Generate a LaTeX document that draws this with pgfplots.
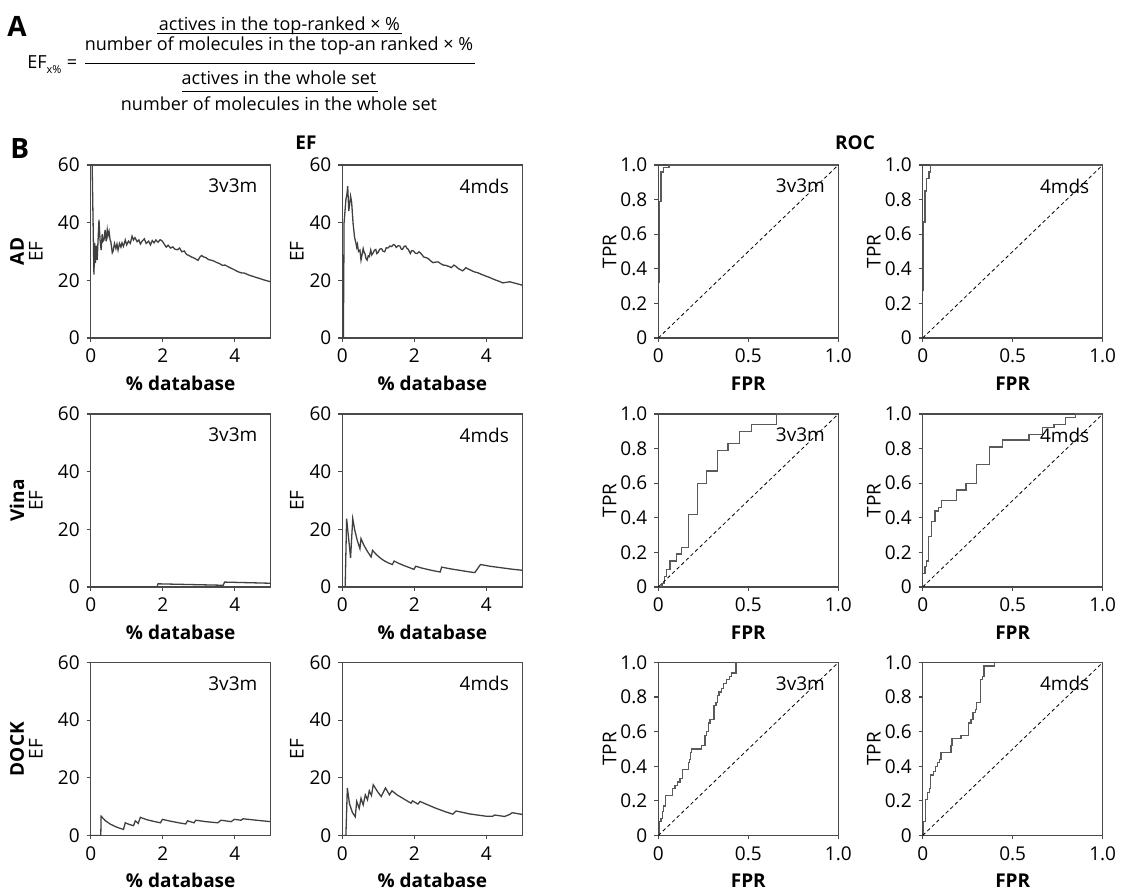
\documentclass[border=0pt]{standalone}
\usepackage{fontspec}
\setmainfont{Open Sans}
\usepackage{pgfplots}
\pgfplotsset{compat=1.18}
\definecolor{linec}{HTML}{404040}
\definecolor{rocc}{HTML}{5A5A5A}
\definecolor{axc}{HTML}{4A4A4A}
\newcommand{\fs}{\fontsize{9.5}{11}\selectfont}
\newcommand{\ffs}{\fontsize{9}{10.5}\selectfont}
\pgfplotsset{
  base/.style={
    scale only axis, width=90pt, height=86.5pt,
    anchor=south west,
    axis line style={axc, line width=0.6pt},
    tick style={axc, line width=0.6pt},
    tick align=outside, major tick length=2pt,
    xtick pos=left, ytick pos=left,
    ticklabel style={font=\fs, text=black},
    /pgf/number format/assume math mode=true,
    xlabel style={at={(axis description cs:0.5,-0.262)}, anchor=center, font=\bfseries\fs},
    every axis plot/.append style={line width=0.65pt, mark=none},
  },
  efax/.style={base, xmin=0, xmax=5, ymin=0, ymax=60,
    xtick={0,2,4}, ytick={0,20,40,60},
    xlabel={\% database}, ylabel={EF},
    ylabel style={at={(axis description cs:#1,0.5)}, anchor=center, font=\fs}},
  rocax/.style={base, xmin=0, xmax=1, ymin=0, ymax=1,
    xtick={0,0.5,1}, xticklabels={0,0.5,1.0},
    ytick={0,0.2,0.4,0.6,0.8,1}, yticklabels={0,0.2,0.4,0.6,0.8,1.0},
    xlabel={FPR}, ylabel={TPR},
    ylabel style={at={(axis description cs:#1,0.5)}, anchor=center, font=\fs}},
}
\newcommand{\tag}[1]{\node[anchor=north east, inner sep=0pt, font=\fs] at (rel axis cs:1,1) [xshift=-6.5pt, yshift=-6.8pt] {#1};}
\newcommand{\diag}{\addplot[black, line width=0.4pt, dash pattern=on 1.8pt off 1.4pt] coordinates {(0,0) (1,1)};}
\begin{document}
\begin{tikzpicture}
\useasboundingbox (0,0) rectangle (560.5pt,445pt);
% ---------- panel A formula ----------
\node[anchor=base west, inner sep=0pt, font=\bfseries\fontsize{14}{16}\selectfont] at (3.5pt,426.5pt) {A};
\node[anchor=base west, inner sep=0pt, font=\ffs] at (13.5pt,410.5pt) {EF\raisebox{-2.5pt}{\fontsize{5.5}{6}\selectfont x\%}};
\node[anchor=base, inner sep=0pt, font=\ffs] at (36pt,410.5pt) {=};
\node[anchor=base, inner sep=0pt, font=\ffs] at (139.75pt,429.5pt) {actives in the top-ranked × \%};
\draw[black, line width=0.5pt] (78.5pt,428pt) -- (201pt,428pt);
\node[anchor=base, inner sep=0pt, font=\ffs] at (139.5pt,419.5pt) {number of molecules in the top-an ranked × \%};
\draw[black, line width=0.5pt] (42.5pt,413pt) -- (237.5pt,413pt);
\node[anchor=base, inner sep=0pt, font=\ffs] at (139.5pt,402.5pt) {actives in the whole set};
\draw[black, line width=0.5pt] (91pt,399pt) -- (189pt,399pt);
\node[anchor=base, inner sep=0pt, font=\ffs] at (139.5pt,389.5pt) {number of molecules in the whole set};
% ---------- panel B headings ----------
\node[anchor=base west, inner sep=0pt, font=\bfseries\fontsize{14}{16}\selectfont] at (5pt,365.5pt) {B};
\node[font=\bfseries\fs, inner sep=0pt] at (153pt,373.5pt) {EF};
\node[font=\bfseries\fs, inner sep=0pt] at (427.5pt,373.5pt) {ROC};
\node[rotate=90, font=\bfseries\fs, inner sep=0pt] at (8.5pt,319.25pt) {AD};
\node[rotate=90, font=\bfseries\fs, inner sep=0pt] at (8.5pt,194.75pt) {Vina};
\node[rotate=90, font=\bfseries\fs, inner sep=0pt] at (8.5pt,70.4pt) {DOCK};
% ================= Row 1: AD =================
\begin{axis}[efax=-0.305, at={(45.35pt,276pt)}]
\addplot[linec] coordinates {(0.03,68) (0.09,22) (0.11,33) (0.13,26) (0.15,32) (0.18,27) (0.23,41) (0.26,34) (0.29,30.5) (0.32,36) (0.34,33.5) (0.37,34) (0.40,37.5) (0.43,33.5) (0.46,37.5) (0.48,35.5) (0.51,37) (0.54,34) (0.56,33.4) (0.60,29.5) (0.62,30) (0.66,32.8) (0.70,31) (0.73,32.6) (0.76,30.5) (0.80,32.8) (0.84,31.5) (0.87,33) (0.91,31.8) (0.96,34) (1.00,32.3) (1.05,33.6) (1.10,32.8) (1.15,35.3) (1.19,34) (1.23,34.8) (1.29,33.4) (1.34,34) (1.38,32.6) (1.43,33.6) (1.49,34.4) (1.54,32.8) (1.61,33.6) (1.66,32.3) (1.71,33.8) (1.76,33) (1.81,34) (1.87,33.2) (1.93,34.1) (1.99,33.6) (2.05,32.4) (2.10,31.5) (2.15,32.2) (2.22,31.2) (2.28,31.6) (2.34,30.8) (2.41,30.6) (2.47,31.2) (2.53,29.9) (2.60,30.2) (2.66,29) (2.73,28.6) (2.80,28.1) (2.86,27.8) (2.92,27.4) (2.98,26.9) (3.03,28) (3.08,28.6) (3.14,28.1) (3.20,27.9) (3.27,27.2) (3.34,27) (3.42,26.7) (3.50,26.2) (3.58,25.8) (3.66,25.2) (3.73,25.3) (3.82,24.7) (3.90,24.2) (4.00,23.6) (4.09,23) (4.18,22.6) (4.27,22.5) (4.40,21.8) (4.55,21.2) (4.70,20.6) (4.85,20) (5.00,19.5)};
\tag{3v3m}
\end{axis}
\begin{axis}[efax=-0.252, at={(171.15pt,276pt)}]
\addplot[linec] coordinates {(0.03,0) (0.05,40) (0.10,48) (0.13,50) (0.15,52.7) (0.18,44) (0.20,46) (0.23,49.2) (0.26,47) (0.30,39.7) (0.34,35) (0.37,33.4) (0.40,31.5) (0.42,32.5) (0.45,30) (0.49,30.5) (0.52,27) (0.55,29) (0.58,31) (0.61,29.5) (0.63,29.3) (0.66,27.5) (0.69,27) (0.72,28.5) (0.75,28.2) (0.79,30.5) (0.82,28.8) (0.86,29.6) (0.89,30.4) (0.93,30.7) (0.96,29.3) (1.00,29.8) (1.04,30.8) (1.09,31) (1.13,30.1) (1.18,29.9) (1.22,31.3) (1.27,31.2) (1.32,31.9) (1.37,31.7) (1.42,32.4) (1.46,32.2) (1.50,31.4) (1.55,32) (1.60,31.9) (1.64,30.8) (1.67,30.7) (1.72,31.8) (1.76,31.9) (1.80,31) (1.83,30.8) (1.89,29.3) (1.93,30.3) (1.98,30.2) (2.03,29.4) (2.08,29.3) (2.13,29.9) (2.17,29.5) (2.22,28.8) (2.26,28.1) (2.32,27.9) (2.38,27.6) (2.45,26.8) (2.52,26.1) (2.58,26.3) (2.66,26.4) (2.73,25.8) (2.80,25.3) (2.87,25.2) (2.94,24.9) (3.00,24.6) (3.03,24.4) (3.10,25.3) (3.16,24.8) (3.22,24.1) (3.28,23.7) (3.34,23.3) (3.39,23.8) (3.43,24.4) (3.50,23.9) (3.54,23.7) (3.62,23.2) (3.68,22.9) (3.77,22.6) (3.86,22.1) (3.98,21.5) (4.09,21) (4.18,20.5) (4.28,20) (4.37,19.6) (4.46,19.1) (4.55,19.3) (4.65,19.5) (4.74,19.2) (4.83,18.9) (4.92,18.6) (5.00,18.3)};
\tag{4mds}
\end{axis}
\begin{axis}[rocax=-0.27, at={(329.15pt,276pt)}]
\addplot[rocc] coordinates {(0.0055,0.32) (0.0055,0.79) (0.015,0.79) (0.015,0.96) (0.028,0.96) (0.028,0.985) (0.059,0.985) (0.059,1.0) (1,1)};
\tag{3v3m}
\diag
\end{axis}
\begin{axis}[rocax=-0.271, at={(461.35pt,276pt)}]
\addplot[rocc] coordinates {(0.004,0.27) (0.004,0.67) (0.013,0.67) (0.013,0.85) (0.022,0.85) (0.022,0.92) (0.035,0.92) (0.035,0.96) (0.045,0.96) (0.045,1.0) (1,1)};
\tag{4mds}
\diag
\end{axis}
% ================= Row 2: Vina =================
\begin{axis}[efax=-0.305, at={(45.35pt,151.5pt)}]
\addplot[linec] coordinates {(0,0) (1.84,0) (1.87,1.1) (3.68,0.6) (3.72,1.7) (5,1.3)};
\tag{3v3m}
\end{axis}
\begin{axis}[efax=-0.252, at={(171.15pt,151.5pt)}]
\addplot[linec] coordinates {(0.04,0) (0.08,0) (0.12,23.7) (0.23,10.1) (0.29,23.7) (0.35,19.5) (0.42,16) (0.49,13.3) (0.52,16.8) (0.60,14.5) (0.70,12.3) (0.80,10.4) (0.84,12.7) (0.95,11.2) (1.05,10.1) (1.15,9.2) (1.27,8.4) (1.39,7.8) (1.44,9.0) (1.55,8.3) (1.70,7.5) (1.85,6.8) (1.99,6.1) (2.04,7.2) (2.20,6.6) (2.40,6.0) (2.55,5.6) (2.72,5.2) (2.76,6.9) (3.00,6.3) (3.25,5.8) (3.50,5.3) (3.68,5.0) (3.84,7.8) (4.10,7.2) (4.40,6.7) (4.70,6.2) (5.00,5.8)};
\tag{4mds}
\end{axis}
\begin{axis}[rocax=-0.27, at={(329.15pt,151.5pt)}]
\addplot[rocc] coordinates {(0,0) (0.02,0) (0.02,0.02) (0.035,0.02) (0.035,0.06) (0.045,0.06) (0.045,0.1) (0.065,0.1) (0.065,0.15) (0.1,0.15) (0.1,0.19) (0.13,0.19) (0.13,0.23) (0.166,0.23) (0.166,0.42) (0.216,0.42) (0.216,0.6) (0.268,0.6) (0.268,0.67) (0.327,0.67) (0.327,0.79) (0.388,0.79) (0.388,0.83) (0.45,0.83) (0.45,0.9) (0.517,0.9) (0.517,0.94) (0.656,0.94) (0.656,1.0) (1,1)};
\tag{3v3m}
\diag
\end{axis}
\begin{axis}[rocax=-0.271, at={(461.35pt,151.5pt)}]
\addplot[rocc] coordinates {(0.004,0.077) (0.013,0.077) (0.013,0.12) (0.022,0.12) (0.022,0.15) (0.031,0.15) (0.031,0.29) (0.05,0.29) (0.05,0.38) (0.068,0.38) (0.068,0.44) (0.087,0.44) (0.087,0.46) (0.105,0.46) (0.105,0.5) (0.189,0.5) (0.189,0.56) (0.24,0.56) (0.24,0.6) (0.3,0.6) (0.3,0.71) (0.37,0.71) (0.37,0.81) (0.444,0.81) (0.444,0.85) (0.59,0.85) (0.59,0.88) (0.665,0.88) (0.665,0.92) (0.73,0.92) (0.73,0.94) (0.793,0.94) (0.793,0.98) (0.85,0.98) (0.85,1) (1,1)};
\tag{4mds}
\diag
\end{axis}
% ================= Row 3: DOCK =================
\begin{axis}[efax=-0.305, at={(45.35pt,27.25pt)}]
\addplot[linec] coordinates {(0,0) (0.28,0) (0.29,6.7) (0.4,5.2) (0.55,3.9) (0.72,2.9) (0.91,2.1) (0.96,4.4) (1.08,3.8) (1.19,3.4) (1.24,5.1) (1.32,4.2) (1.38,6.3) (1.55,5.5) (1.75,4.9) (1.94,4.4) (1.99,5.6) (2.2,5.0) (2.45,4.4) (2.64,4.0) (2.69,5.1) (2.87,4.4) (2.92,5.3) (3.2,4.8) (3.53,4.4) (3.62,5.3) (3.90,4.8) (3.99,5.6) (4.18,5.3) (4.23,5.8) (4.6,5.3) (5.0,4.8)};
\tag{3v3m}
\end{axis}
\begin{axis}[efax=-0.252, at={(171.15pt,27.25pt)}]
\addplot[linec] coordinates {(0.03,0) (0.10,0) (0.14,16.5) (0.2,11) (0.28,8) (0.36,6.5) (0.40,11.8) (0.47,9.4) (0.52,12.9) (0.58,10.6) (0.64,14.1) (0.70,12.4) (0.75,15.5) (0.81,13.9) (0.86,17.6) (0.97,15.4) (1.08,13.5) (1.20,16.5) (1.31,14.1) (1.38,15.5) (1.52,14.1) (1.68,12.9) (1.80,12) (1.91,11.2) (1.95,12) (2.10,10.9) (2.16,11.8) (2.40,10.5) (2.61,9.4) (2.85,8.3) (3.07,7.4) (3.16,8.5) (3.35,8.0) (3.53,7.5) (3.75,7.1) (3.99,6.7) (4.18,6.7) (4.23,7.1) (4.51,6.6) (4.65,7.3) (4.72,7.9) (5.00,7.3)};
\tag{4mds}
\end{axis}
\begin{axis}[rocax=-0.27, at={(329.15pt,27.25pt)}]
\addplot[rocc] coordinates {(0.006,0) (0.006,0.08) (0.015,0.08) (0.015,0.1) (0.024,0.1) (0.024,0.14) (0.028,0.14) (0.028,0.17) (0.039,0.17) (0.039,0.23) (0.079,0.23) (0.079,0.27) (0.092,0.27) (0.092,0.29) (0.105,0.29) (0.105,0.31) (0.12,0.31) (0.12,0.33) (0.135,0.33) (0.135,0.38) (0.166,0.38) (0.166,0.42) (0.172,0.42) (0.172,0.44) (0.179,0.44) (0.179,0.48) (0.185,0.48) (0.185,0.5) (0.24,0.5) (0.24,0.52) (0.259,0.52) (0.259,0.58) (0.268,0.58) (0.268,0.6) (0.277,0.6) (0.277,0.65) (0.287,0.65) (0.287,0.67) (0.309,0.67) (0.309,0.75) (0.32,0.75) (0.32,0.77) (0.327,0.77) (0.327,0.81) (0.338,0.81) (0.338,0.83) (0.351,0.83) (0.351,0.85) (0.364,0.85) (0.364,0.88) (0.379,0.88) (0.379,0.9) (0.394,0.9) (0.394,0.92) (0.407,0.92) (0.407,0.94) (0.431,0.94) (0.431,1.0) (1,1)};
\tag{3v3m}
\diag
\end{axis}
\begin{axis}[rocax=-0.271, at={(461.35pt,27.25pt)}]
\addplot[rocc] coordinates {(0.004,0) (0.004,0.08) (0.015,0.08) (0.015,0.21) (0.028,0.21) (0.028,0.25) (0.037,0.25) (0.037,0.27) (0.042,0.27) (0.042,0.35) (0.061,0.35) (0.061,0.37) (0.07,0.37) (0.07,0.4) (0.083,0.4) (0.083,0.42) (0.092,0.42) (0.092,0.44) (0.101,0.44) (0.101,0.48) (0.157,0.48) (0.157,0.52) (0.162,0.52) (0.162,0.56) (0.212,0.56) (0.212,0.58) (0.255,0.58) (0.255,0.65) (0.268,0.65) (0.268,0.67) (0.28,0.67) (0.28,0.71) (0.292,0.71) (0.292,0.73) (0.299,0.73) (0.299,0.77) (0.323,0.77) (0.323,0.9) (0.332,0.9) (0.332,0.92) (0.341,0.92) (0.341,0.98) (0.397,0.98) (0.397,1.0) (1,1)};
\tag{4mds}
\diag
\end{axis}
\end{tikzpicture}
\end{document}
